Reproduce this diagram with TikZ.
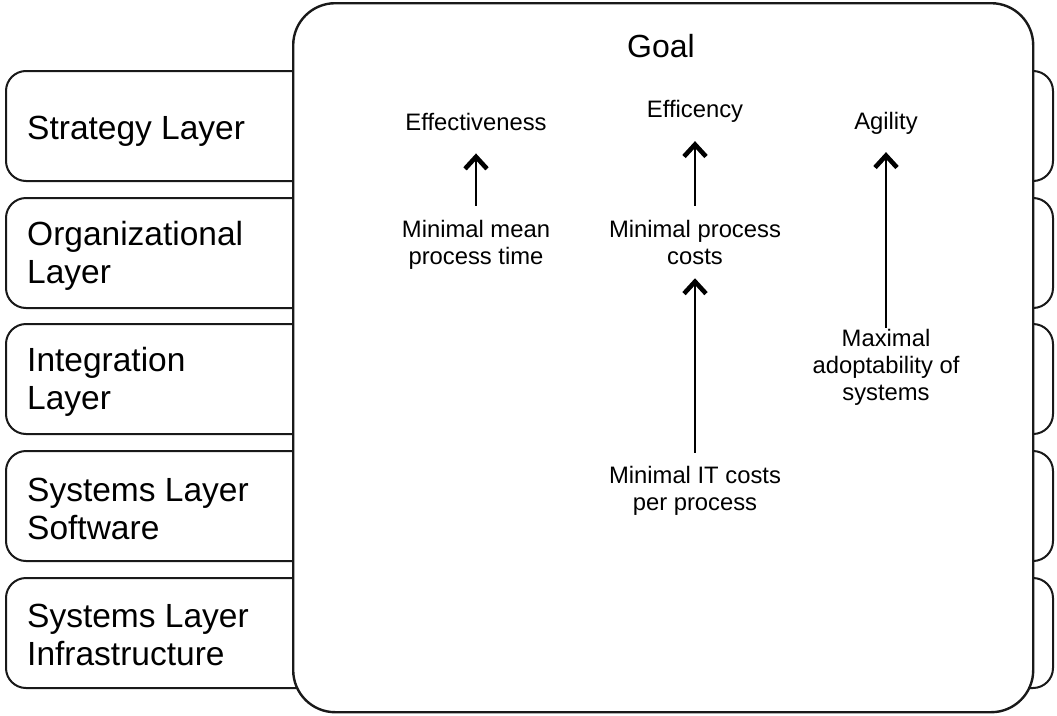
\documentclass[tikz,border=0pt]{standalone}
\usepackage{fontspec}
\setmainfont{Liberation Sans}
\usetikzlibrary{arrows.meta}

\tikzset{
  layerbox/.style={draw=black!90, line width=2pt, rounded corners=20pt, fill=white,
    minimum width=1047pt, minimum height=110pt, anchor=north west, inner sep=0pt},
  goalbox/.style={draw=black!90, line width=2.4pt, rounded corners=42pt, fill=white,
    minimum width=740pt, minimum height=709pt, anchor=north west, inner sep=0pt},
  layerlbl/.style={anchor=west, inner sep=0pt, align=left,
    font=\fontsize{33.5}{38}\selectfont},
  txt/.style={inner sep=0pt, align=center, font=\fontsize{23.8}{27}\selectfont},
  goaltxt/.style={inner sep=0pt, anchor=base, font=\fontsize{32}{36}\selectfont},
  arr/.style={line width=2.3pt,
    -{Straight Barb[length=12pt,width=22pt,line width'=4.6pt]}},
}

\begin{document}
\begin{tikzpicture}[x=1pt, y=-1pt]
  \useasboundingbox (0,0) rectangle (1057,715);

  % layer bands behind the goal panel
  \node[layerbox] (strategy) at (5,70) {};
  \node[layerbox] (organization) at (5,197) {};
  \node[layerbox] (integration) at (5,323) {};
  \node[layerbox] (software) at (5,450) {};
  \node[layerbox] (infra) at (5,577) {};

  \node[layerlbl] (strategylbl) at (27,131.5) {Strategy Layer};
  \node[layerlbl] (organizationlbl) at (27,255.5) {Organizational\\Layer};
  \node[layerlbl] (integrationlbl) at (27,382) {Integration\\Layer};
  \node[layerlbl] (softwarelbl) at (27,508.5) {Systems Layer\\Software};
  \node[layerlbl] (infralbl) at (27,634.5) {Systems Layer\\Infrastructure};

  % goal panel
  \node[goalbox] (panel) at (292,2) {};
  \node[goaltxt] (goal) at (661,57) {Goal};

  % goals
  \node[txt, anchor=base] (eff) at (476,130) {Effectiveness};
  \node[txt, anchor=base] (effy) at (695,117) {Efficency};
  \node[txt, anchor=base] (agil) at (886,129) {Agility};

  % measures
  \node[txt] (mmpt) at (476,245.2) {Minimal mean\\process time};
  \node[txt] (mpc) at (695,242.8) {Minimal process\\costs};
  \node[txt] (maxa) at (886,367.6) {Maximal\\adoptability of\\systems};
  \node[txt] (mitc) at (695,491) {Minimal IT costs\\per process};

  % contributions
  \draw[arr, shorten <=14.5pt, shorten >=23pt] (mmpt.north) -- (eff.south);
  \draw[arr, shorten <=14.5pt, shorten >=19pt] (mpc.north) -- (effy.south);
  \draw[arr, shorten <=1.5pt, shorten >=18pt] (maxa.north) -- (agil.south);
  \draw[arr, shorten <=13.5pt, shorten >=13pt] (mitc.north) -- (mpc.south);
\end{tikzpicture}
\end{document}
